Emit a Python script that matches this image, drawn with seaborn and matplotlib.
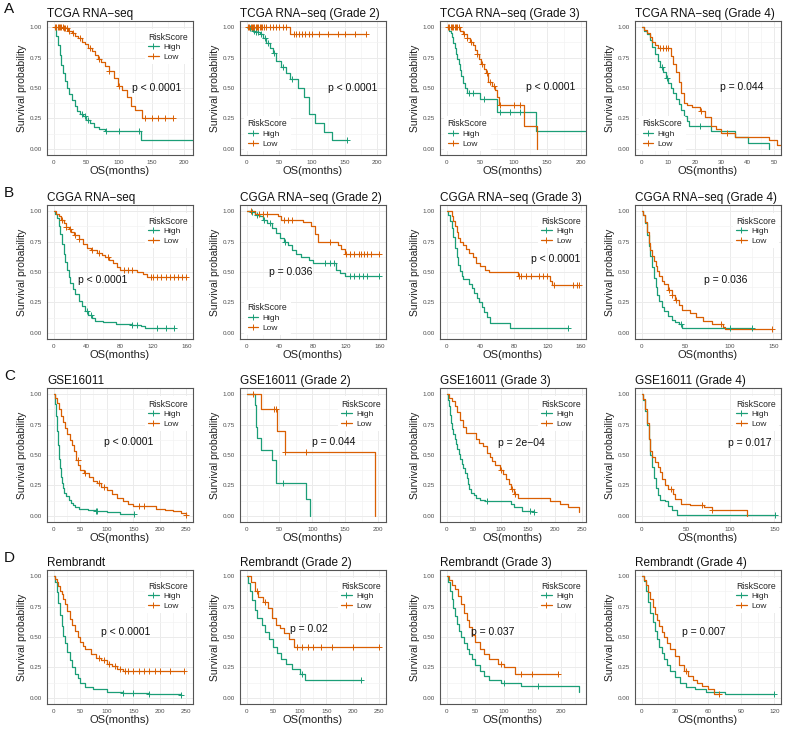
import numpy as np
import pandas as pd
import seaborn as sns
import matplotlib.pyplot as plt
from matplotlib.lines import Line2D
from matplotlib.ticker import MultipleLocator, AutoMinorLocator

# ---------------- datos (tiempo, supervivencia, censuras) ----------------
# A - TCGA
a1_ht = [0, 3, 6, 9, 12, 15, 18, 21, 24, 28, 32, 36, 40, 45, 50, 55, 62, 70, 78, 134, 214]
a1_hs = [1, .93, .85, .77, .69, .62, .56, .50, .45, .40, .35, .31, .29, .27, .24, .21, .18, .16, .15, .07, .07]
a1_hc = [44, 48, 52, 80, 100, 130]
a1_lt = [0, 15, 22, 28, 33, 38, 43, 48, 53, 58, 63, 68, 73, 78, 85, 92, 98, 105, 112, 118, 125, 135, 182]
a1_ls = [1, .99, .97, .95, .93, .91, .88, .86, .83, .80, .77, .74, .71, .68, .64, .58, .52, .48, .43, .35, .32, .25, .25]
a1_lc = [2, 4, 6, 8, 10, 12, 14, 16, 18, 20, 24, 30, 40, 55, 70, 85, 100, 140, 150, 160, 170, 182]

a2_ht = [0, 5, 10, 15, 20, 25, 30, 35, 40, 45, 52, 60, 66, 78, 88, 95, 105, 118, 130, 153]
a2_hs = [1, .99, .97, .96, .94, .91, .87, .83, .79, .72, .67, .62, .57, .50, .43, .29, .21, .14, .07, .07]
a2_hc = [5, 8, 12, 15, 18, 22, 28, 33, 42, 55, 70, 153]
a2_lt = [0, 66, 182]
a2_ls = [1, .94, .94]
a2_lc = [2, 4, 6, 8, 10, 12, 14, 16, 18, 20, 22, 24, 26, 30, 35, 40, 45, 50, 55, 60,
         72, 76, 80, 85, 90, 95, 100, 110, 125, 140, 150, 165, 182]

a3_ht = [0, 3, 6, 8, 10, 12, 14, 16, 18, 20, 22, 24, 27, 30, 50, 75, 133, 212]
a3_hs = [1, .97, .95, .92, .87, .83, .78, .74, .70, .65, .60, .54, .50, .46, .41, .30, .15, .15]
a3_hc = [33, 40, 55, 80, 95, 110]
a3_lt = [0, 20, 25, 30, 35, 40, 42, 45, 48, 52, 55, 58, 62, 68, 72, 75, 78, 115, 135]
a3_ls = [1, .97, .94, .91, .88, .85, .81, .78, .74, .70, .66, .62, .55, .52, .48, .43, .36, .19, 0]
a3_lc = [2, 4, 6, 8, 10, 12, 14, 16, 18, 26, 31, 36, 46, 53, 60, 65, 70, 80, 100, 110]

a4_ht = [0, 1, 2, 3, 4, 5, 6, 7, 8, 9, 10, 11, 12, 13, 14, 15, 16, 17, 18, 26, 35, 40, 48]
a4_hs = [1, .97, .94, .89, .84, .78, .72, .67, .63, .58, .54, .50, .46, .41, .37, .32, .27, .23, .19, .15, .10, .05, 0]
a4_hc = [7.5, 9.5, 22]
a4_lt = [0, 1, 2, 3, 4, 5, 6, 11, 12, 13, 14, 15, 16, 17, 19, 22, 24, 26, 28, 30, 35, 48, 51, 54]
a4_ls = [1, .98, .95, .92, .88, .85, .83, .76, .70, .63, .55, .46, .38, .36, .34, .31, .26, .19, .16, .13, .10, .07, .03, .03]
a4_lc = [7, 8, 9, 10, 22.5, 32]

# B - CGGA
b1_ht = [0, 2, 4, 6, 8, 10, 12, 14, 16, 18, 20, 23, 26, 30, 34, 38, 42, 46, 50, 60, 75, 95, 105, 110, 145]
b1_hs = [1, .98, .94, .88, .81, .73, .65, .58, .52, .46, .41, .36, .32, .26, .22, .18, .15, .12, .10, .09, .075, .065, .055, .04, .04]
b1_hc = [40, 45, 95, 100, 125, 135, 145]
b1_lt = [0, 3, 6, 9, 12, 15, 18, 21, 25, 30, 35, 40, 45, 52, 58, 62, 67, 72, 76, 80, 100, 108, 113, 160]
b1_ls = [1, .98, .96, .93, .90, .87, .85, .83, .80, .77, .73, .70, .68, .66, .64, .62, .60, .57, .54, .52, .50, .48, .46, .46]
b1_lc = [10, 15, 20, 26, 31, 46, 55, 65, 85, 90, 95, 117, 120, 125, 130, 135, 140, 145, 150, 155, 160]

b2_ht = [0, 5, 10, 15, 20, 25, 30, 35, 40, 45, 50, 55, 60, 65, 75, 80, 108, 113, 118, 160]
b2_hs = [1, .99, .97, .96, .93, .90, .86, .82, .78, .75, .72, .68, .65, .62, .60, .57, .52, .49, .47, .47]
b2_hc = [6, 12, 21, 28, 46, 95, 100, 105, 125, 130, 135, 140, 145, 160]
b2_lt = [0, 10, 38, 42, 68, 78, 82, 86, 110, 114, 118, 160]
b2_ls = [1, .98, .96, .93, .91, .88, .81, .75, .72, .69, .65, .65]
b2_lc = [5, 15, 20, 25, 45, 50, 55, 100, 120, 125, 130, 135, 138, 142, 145, 150, 160]

b3_ht = [0, 2, 4, 6, 8, 10, 12, 14, 16, 18, 20, 27, 30, 33, 36, 39, 42, 45, 48, 52, 76, 145]
b3_hs = [1, .97, .92, .86, .79, .70, .62, .56, .51, .47, .44, .40, .37, .33, .29, .25, .21, .17, .13, .08, .04, .04]
b3_hc = [145]
b3_lt = [0, 6, 8, 10, 12, 14, 16, 19, 23, 27, 31, 35, 40, 46, 50, 85, 123, 126, 158]
b3_ls = [1, .96, .92, .88, .83, .78, .75, .72, .69, .66, .62, .57, .55, .52, .50, .47, .43, .39, .39]
b3_lc = [86, 88, 95, 100, 110, 115, 120, 128, 150, 155, 158]

b4_ht = [0, 2, 4, 6, 8, 10, 12, 14, 16, 18, 20, 23, 26, 30, 34, 38, 42, 46, 125]
b4_hs = [1, .97, .90, .80, .71, .63, .54, .45, .38, .31, .26, .21, .18, .14, .11, .09, .07, .04, .04]
b4_hc = [45, 100, 125]
b4_lt = [0, 2, 4, 6, 8, 10, 12, 14, 16, 18, 20, 23, 26, 30, 34, 38, 42, 46, 55, 62, 70, 80, 92, 95, 148]
b4_ls = [1, .97, .91, .83, .74, .68, .63, .59, .55, .51, .47, .43, .40, .35, .31, .27, .23, .19, .16, .13, .10, .07, .05, .03, .03]
b4_lc = [31, 35, 39, 90, 148]

# C - GSE16011
c1_ht = [0, 2, 4, 6, 8, 10, 12, 14, 16, 18, 20, 24, 28, 32, 36, 40, 48, 65, 80, 100, 115, 125, 152]
c1_hs = [1, .92, .82, .70, .58, .47, .39, .32, .27, .23, .19, .16, .13, .11, .09, .07, .055, .045, .04, .035, .03, .015, .015]
c1_hc = [80, 82, 152]
c1_lt = [0, 3, 6, 10, 14, 18, 22, 26, 30, 34, 38, 42, 46, 50, 58, 66, 74, 82, 90, 100,
         110, 120, 130, 140, 150, 193, 210, 225, 240, 250]
c1_ls = [1, .97, .93, .88, .82, .77, .72, .67, .62, .58, .53, .46, .42, .38, .35, .32, .29, .27, .24, .21,
         .18, .15, .12, .10, .08, .06, .05, .04, .02, .01]
c1_lc = [45, 60, 85, 95, 160, 170, 250]

c2_ht = [0, 13, 14, 15, 16, 22, 39, 45, 91, 97]
c2_hs = [1, .909, .818, .727, .636, .545, .455, .273, .136, 0]
c2_hc = [55]
c2_lt = [0, 22, 46, 58, 195]
c2_ls = [1, .875, .70, .525, 0]
c2_lc = [10, 42, 44, 59, 90]

c3_ht = [0, 2, 4, 6, 8, 10, 12, 15, 18, 20, 22, 25, 28, 30, 34, 37, 40, 42, 45, 50, 55, 62, 72, 120, 125, 140, 162]
c3_hs = [1, .95, .90, .83, .76, .71, .67, .63, .59, .55, .51, .47, .43, .39, .35, .31, .26, .22, .19, .17, .15, .13, .12, .10, .07, .04, .03]
c3_hc = [75, 155, 162]
c3_lt = [0, 5, 10, 15, 20, 25, 30, 35, 55, 60, 68, 75, 80, 85, 90, 98, 105, 110, 115, 120, 125, 132, 192, 210, 225, 246]
c3_ls = [1, .97, .94, .90, .85, .79, .73, .68, .63, .60, .57, .52, .48, .45, .42, .38, .34, .30, .26, .22, .18, .15, .12, .10, .07, .03]
c3_lc = [100, 121, 127]

c4_ht = [0, 2, 4, 6, 8, 10, 12, 14, 16, 18, 21, 26, 30, 34, 40, 151]
c4_hs = [1, .95, .86, .75, .63, .50, .40, .31, .23, .17, .13, .12, .08, .05, .01, .01]
c4_hc = [151]
c4_lt = [0, 2, 4, 6, 8, 10, 12, 15, 18, 21, 23, 26, 30, 35, 38, 45, 55, 70, 80, 119]
c4_ls = [1, .96, .88, .76, .63, .53, .48, .44, .40, .36, .30, .25, .22, .18, .14, .10, .09, .07, .05, 0]
c4_lc = [33, 68, 80]

# D - Rembrandt
d1_ht = [0, 3, 6, 9, 12, 15, 18, 21, 25, 30, 35, 40, 45, 50, 60, 75, 100, 130, 180, 240]
d1_hs = [1, .95, .87, .78, .68, .59, .51, .45, .38, .31, .25, .20, .16, .12, .09, .07, .05, .04, .03, .02]
d1_hc = [130, 150, 180, 240]
d1_lt = [0, 3, 6, 9, 12, 15, 18, 21, 25, 30, 35, 40, 45, 50, 55, 60, 70, 80, 90, 100, 110, 120, 130, 245]
d1_ls = [1, .98, .95, .92, .88, .85, .81, .77, .71, .65, .60, .55, .50, .46, .43, .40, .36, .33, .31, .28, .26, .24, .22, .22]
d1_lc = [85, 95, 105, 115, 125, 135, 140, 150, 160, 170, 180, 190, 200, 220, 245]

d2_ht = [0, 3, 6, 10, 15, 20, 28, 35, 42, 50, 58, 65, 75, 85, 100, 110, 215]
d2_hs = [1, .94, .88, .80, .72, .66, .60, .54, .48, .42, .37, .32, .28, .24, .20, .15, .15]
d2_hc = [105, 215]
d2_lt = [0, 8, 15, 22, 30, 40, 48, 55, 62, 70, 80, 90, 250]
d2_ls = [1, .95, .88, .83, .79, .74, .66, .60, .57, .53, .48, .42, .42]
d2_lc = [20, 35, 95, 105, 115, 125, 140, 160, 200, 250]

d3_ht = [0, 3, 6, 9, 12, 15, 18, 22, 26, 30, 35, 40, 45, 50, 58, 65, 75, 95, 130, 232]
d3_hs = [1, .95, .88, .81, .74, .67, .61, .55, .50, .45, .40, .36, .32, .27, .22, .18, .15, .12, .10, .05]
d3_hc = [100, 160]
d3_lt = [0, 5, 10, 15, 20, 25, 30, 35, 40, 45, 50, 58, 65, 75, 90, 100, 120, 195]
d3_ls = [1, .97, .93, .89, .84, .77, .70, .64, .58, .52, .46, .40, .36, .32, .28, .25, .20, .20]
d3_lc = [95, 130, 150, 195]

d4_ht = [0, 2, 4, 6, 8, 10, 12, 14, 16, 18, 20, 23, 26, 30, 35, 40, 48, 58, 75, 120]
d4_hs = [1, .96, .88, .79, .70, .62, .55, .48, .42, .37, .32, .27, .22, .17, .12, .09, .07, .05, .03, .03]
d4_hc = [120]
d4_lt = [0, 2, 4, 6, 8, 10, 12, 14, 16, 18, 20, 23, 26, 30, 34, 38, 42, 46, 50, 55, 60, 65, 70]
d4_ls = [1, .97, .93, .87, .81, .75, .69, .64, .59, .54, .50, .45, .40, .34, .27, .22, .18, .15, .12, .10, .07, .03, .03]
d4_lc = [40, 70]

titles = ["TCGA RNA−seq", "TCGA RNA−seq (Grade 2)", "TCGA RNA−seq (Grade 3)", "TCGA RNA−seq (Grade 4)",
          "CGGA RNA−seq", "CGGA RNA−seq (Grade 2)", "CGGA RNA−seq (Grade 3)", "CGGA RNA−seq (Grade 4)",
          "GSE16011", "GSE16011 (Grade 2)", "GSE16011 (Grade 3)", "GSE16011 (Grade 4)",
          "Rembrandt", "Rembrandt (Grade 2)", "Rembrandt (Grade 3)", "Rembrandt (Grade 4)"]
pvals = ["p < 0.0001", "p < 0.0001", "p < 0.0001", "p = 0.044",
         "p < 0.0001", "p = 0.036", "p < 0.0001", "p = 0.036",
         "p < 0.0001", "p = 0.044", "p = 2e−04", "p = 0.017",
         "p < 0.0001", "p = 0.02", "p = 0.037", "p = 0.007"]
x_max = [203, 203, 198, 50, 160, 160, 158, 151, 250, 202, 246, 150, 250, 250, 233, 120]
x_step = [50, 50, 50, 10, 40, 40, 40, 50, 50, 50, 50, 50, 50, 50, 50, 30]
row_letters = ["A", "B", "C", "D"]

curvas = [
    (a1_ht, a1_hs, a1_hc, a1_lt, a1_ls, a1_lc), (a2_ht, a2_hs, a2_hc, a2_lt, a2_ls, a2_lc),
    (a3_ht, a3_hs, a3_hc, a3_lt, a3_ls, a3_lc), (a4_ht, a4_hs, a4_hc, a4_lt, a4_ls, a4_lc),
    (b1_ht, b1_hs, b1_hc, b1_lt, b1_ls, b1_lc), (b2_ht, b2_hs, b2_hc, b2_lt, b2_ls, b2_lc),
    (b3_ht, b3_hs, b3_hc, b3_lt, b3_ls, b3_lc), (b4_ht, b4_hs, b4_hc, b4_lt, b4_ls, b4_lc),
    (c1_ht, c1_hs, c1_hc, c1_lt, c1_ls, c1_lc), (c2_ht, c2_hs, c2_hc, c2_lt, c2_ls, c2_lc),
    (c3_ht, c3_hs, c3_hc, c3_lt, c3_ls, c3_lc), (c4_ht, c4_hs, c4_hc, c4_lt, c4_ls, c4_lc),
    (d1_ht, d1_hs, d1_hc, d1_lt, d1_ls, d1_lc), (d2_ht, d2_hs, d2_hc, d2_lt, d2_ls, d2_lc),
    (d3_ht, d3_hs, d3_hc, d3_lt, d3_ls, d3_lc), (d4_ht, d4_hs, d4_hc, d4_lt, d4_ls, d4_lc),
]

# ---------------- estilo ----------------
sns.set_theme(style="white")
plt.rcParams['font.family'] = ['Liberation Sans', 'DejaVu Sans']
COLORES = {"High": "#1B9E77", "Low": "#D95F02"}

# posicion del texto p y de la leyenda (fraccion de ejes)
p_pos = [(0.58, 0.50), (0.60, 0.50), (0.59, 0.51), (0.585, 0.51),
         (0.21, 0.44), (0.20, 0.50), (0.62, 0.60), (0.47, 0.44),
         (0.39, 0.60), (0.49, 0.60), (0.40, 0.59), (0.64, 0.59),
         (0.37, 0.54), (0.34, 0.56), (0.21, 0.54), (0.32, 0.54)]
leg_abajo = [False, True, True, True, False, True, False, False,
             False, False, False, False, False, False, False, False]

W, H = 787, 734
col_left = [47, 240, 440, 635]
row_top = [21, 205, 388, 570]
ax_w, ax_h = 146, 134


def escalon(t, s, x):
    idx = np.searchsorted(np.asarray(t), np.asarray(x), side="right") - 1
    return np.asarray(s)[np.clip(idx, 0, len(s) - 1)]


fig = plt.figure(figsize=(W / 100, H / 100), dpi=100)

for i, (ht, hs, hc, lt, ls, lc) in enumerate(curvas):
    r, c = divmod(i, 4)
    ax = fig.add_axes([col_left[c] / W, 1 - (row_top[r] + ax_h) / H, ax_w / W, ax_h / H])

    df = pd.DataFrame({
        "tiempo": ht + lt,
        "superv": hs + ls,
        "RiskScore": ["High"] * len(ht) + ["Low"] * len(lt),
    })
    sns.lineplot(data=df, x="tiempo", y="superv", hue="RiskScore", palette=COLORES,
                 hue_order=["High", "Low"], estimator=None, sort=False,
                 drawstyle="steps-post", linewidth=0.9, legend=False, ax=ax)

    # marcas de censura
    for t, s, cens, g in [(ht, hs, hc, "High"), (lt, ls, lc, "Low")]:
        ax.plot(cens, escalon(t, s, cens), linestyle="none", marker="+",
                markersize=4.5, markeredgewidth=0.7, color=COLORES[g])

    R = x_max[i]
    ax.set_xlim(-0.05 * R, 1.05 * R)
    ax.set_ylim(-0.05, 1.05)
    ax.xaxis.set_major_locator(MultipleLocator(x_step[i]))
    ax.yaxis.set_major_locator(MultipleLocator(0.25))
    ax.xaxis.set_minor_locator(AutoMinorLocator(2))
    ax.yaxis.set_minor_locator(AutoMinorLocator(2))
    ax.yaxis.set_major_formatter(plt.FuncFormatter(lambda v, p: f"{v:.2f}"))
    ax.grid(True, which="major", color="#EBEBEB", linewidth=0.7)
    ax.grid(True, which="minor", color="#F3F3F3", linewidth=0.5)
    ax.set_axisbelow(True)
    for sp in ax.spines.values():
        sp.set_color("#555555")
        sp.set_linewidth(0.8)
    ax.tick_params(which="major", labelsize=4.5, colors="#4D4D4D", length=2, width=0.5, pad=1.5)
    ax.tick_params(which="minor", length=0)

    ax.set_xlabel("OS(months)", fontsize=8, labelpad=1, color="#222222")
    ax.set_ylabel("Survival probability", fontsize=7.5, labelpad=2, color="#222222")
    ax.set_title(titles[i], loc="left", fontsize=8.5, pad=3, color="#111111")

    px, py = p_pos[i]
    ax.text(px, py, pvals[i], transform=ax.transAxes, ha="left", va="center",
            fontsize=7.5, color="#111111")

    handles = [Line2D([], [], color=COLORES[g], marker="+", markersize=4.5,
                      markeredgewidth=0.7, linewidth=0.9, label=g) for g in ["High", "Low"]]
    if leg_abajo[i]:
        kw = dict(loc="lower left", bbox_to_anchor=(0.0, 0.0))
    else:
        kw = dict(loc="upper left", bbox_to_anchor=(0.64, 0.97))
    leg = ax.legend(handles=handles, title="RiskScore", fontsize=6, title_fontsize=6.2,
                    frameon=True, facecolor="white", edgecolor="none", framealpha=1,
                    handlelength=1.3, handletextpad=0.5, labelspacing=0.2,
                    borderpad=0.4, alignment="left", **kw)
    leg.get_title().set_color("#222222")

    if c == 0:
        fig.text(4 / W, 1 - (row_top[r] - 19) / H, row_letters[r], fontsize=11,
                 va="top", ha="left", color="#111111")

fig.savefig("out.png", dpi=100)
